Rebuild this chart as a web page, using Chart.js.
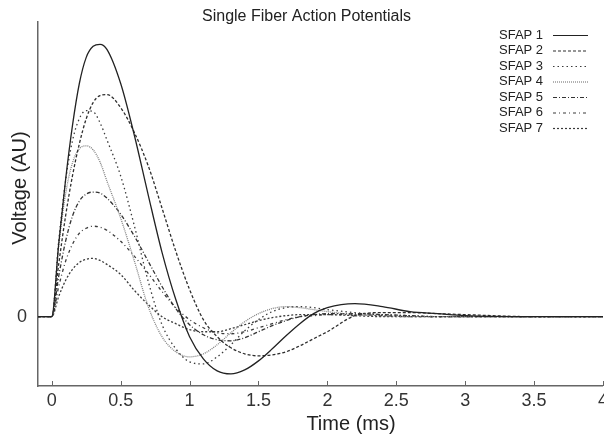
<!DOCTYPE html>
<html>
<head>
<meta charset="utf-8">
<script src="https://cdn.jsdelivr.net/npm/chart.js@4.4.0/dist/chart.umd.min.js"></script>
<style>
  html, body { margin: 0; padding: 0; background: #fff; }
</style>
</head>
<body>
<canvas id="sfap" width="604" height="437"></canvas>
<script>
// Time axis (ms), shared by all traces
var timeMs = [-0.1, 0, 0.05, 0.1, 0.15, 0.2, 0.25, 0.3, 0.35, 0.4, 0.5, 0.6, 0.7, 0.8, 0.9,
  1.0, 1.1, 1.2, 1.3, 1.4, 1.5, 1.6, 1.7, 1.8, 1.9, 2.0, 2.2, 2.4, 2.6, 2.8, 3.0, 3.5, 4.0];

// Voltage readings (AU) for each single fiber action potential
var sfap1 = [0, 0, 72, 136, 190, 232, 258, 269, 271, 266, 232, 180, 121, 64, 17,
  -20, -42, -54, -57, -53, -44, -32, -19, -7, 3, 9, 13, 10, 5, 3, 1, 0, 0];
var sfap2 = [0, 0, 52, 100, 140, 172, 197, 213, 220, 221, 208, 183, 150, 108, 65,
  27, -3, -20, -31, -37, -39, -38, -35, -29, -22, -15, 1, 4, 4, 3, 2, 0, 0];
var sfap3 = [0, 0, 75, 135, 175, 197, 205, 204, 193, 176, 140, 90, 35, -8, -32,
  -45, -47, -40, -28, -14, -3, 5, 9, 10, 9, 7, 4, 2, 1, 0, 0, 0, 0];
var sfap4 = [0, 0, 70, 122, 153, 167, 170, 166, 154, 135, 98, 55, 10, -20, -35,
  -40, -37, -28, -16, -5, 3, 8, 10, 9, 7, 5, 2, 1, 0, 0, 0, 0, 0];
var sfap5 = [0, 0, 40, 75, 100, 115, 122, 124, 123, 118, 102, 80, 55, 30, 8,
  -8, -18, -23, -24, -21, -15, -9, -4, 0, 2, 3, 3, 2, 1, 0, 0, 0, 0];
var sfap6 = [0, 0, 30, 55, 72, 83, 88, 90, 89, 86, 75, 60, 43, 25, 9,
  -3, -11, -16, -17, -15, -11, -7, -3, 0, 1, 2, 2, 1, 0, 0, 0, 0, 0];
var sfap7 = [0, 0, 20, 36, 47, 54, 57, 58, 56, 52, 42, 26, 12, 0, -7,
  -13, -15, -15, -12, -8, -4, -1, 1, 2, 2, 2, 1, 0, 0, 0, 0, 0, 0];

var seriesNames = ["SFAP 1", "SFAP 2", "SFAP 3", "SFAP 4", "SFAP 5", "SFAP 6", "SFAP 7"];
var xTicks = [0, 0.5, 1, 1.5, 2, 2.5, 3, 3.5, 4];
var yTicks = [0];

var FONT = "'Liberation Sans', Arial, Helvetica, sans-serif";

// Line styles: solid, dashed, dotted, fine dotted, dash-dot, sparse dash-dot, short dash
var styles = [
  { color: "#222222", dash: [] },
  { color: "#2e2e2e", dash: [3, 2] },
  { color: "#3a3a3a", dash: [1.5, 3] },
  { color: "#808080", dash: [1, 1] },
  { color: "#333333", dash: [4, 2, 1, 2] },
  { color: "#3a3a3a", dash: [3, 3, 1, 3] },
  { color: "#3a3a3a", dash: [2, 2] }
];

function toPoints(values) {
  return values.map(function (v, i) { return { x: timeMs[i], y: v }; });
}

var allSeries = [sfap1, sfap2, sfap3, sfap4, sfap5, sfap6, sfap7];
var datasets = allSeries.map(function (vals, i) {
  return {
    label: seriesNames[i],
    data: toPoints(vals),
    borderColor: styles[i].color,
    borderDash: styles[i].dash,
    borderWidth: 1.3,
    pointRadius: 0,
    fill: false,
    cubicInterpolationMode: "monotone"
  };
});

// Axis titles, inward x tick marks and the right-side legend
var decor = {
  id: "decor",
  afterDraw: function (chart) {
    var ctx = chart.ctx;
    var area = chart.chartArea;
    var xs = chart.scales.x;

    ctx.save();
    ctx.strokeStyle = "#666";
    ctx.lineWidth = 1;
    xTicks.forEach(function (v) {
      var px = Math.round(xs.getPixelForValue(v)) + 0.5;
      ctx.beginPath();
      ctx.moveTo(px, area.bottom);
      ctx.lineTo(px, area.bottom - 5);
      ctx.stroke();
    });

    ctx.fillStyle = "#222";
    ctx.font = "20px " + FONT;
    ctx.textAlign = "center";
    ctx.textBaseline = "middle";
    ctx.fillText("Time (ms)", 351, 424);

    ctx.save();
    ctx.translate(20, 188);
    ctx.rotate(-Math.PI / 2);
    ctx.fillText("Voltage (AU)", 0, 0);
    ctx.restore();

    // legend
    ctx.font = "13px " + FONT;
    ctx.textAlign = "left";
    chart.data.datasets.forEach(function (ds, i) {
      var y = 35 + i * 15.5;
      ctx.fillStyle = "#222";
      ctx.fillText(ds.label, 499, y);
      ctx.strokeStyle = ds.borderColor;
      ctx.lineWidth = 1.2;
      ctx.setLineDash(ds.borderDash);
      ctx.beginPath();
      ctx.moveTo(553, y + 0.5);
      ctx.lineTo(588, y + 0.5);
      ctx.stroke();
      ctx.setLineDash([]);
    });
    ctx.restore();
  }
};

var ctx = document.getElementById("sfap").getContext("2d");
var chart = new Chart(ctx, {
  type: "line",
  data: { datasets: datasets },
  options: {
    responsive: false,
    animation: false,
    devicePixelRatio: 1,
    layout: { autoPadding: false, padding: { left: 0, right: -9, top: 0, bottom: 0 } },
    plugins: {
      legend: { display: false },
      tooltip: { enabled: false },
      title: {
        display: true,
        text: "Single Fiber Action Potentials",
        color: "#222",
        font: { family: FONT, size: 16, weight: "normal" },
        padding: { top: 7, bottom: -4 }
      }
    },
    scales: {
      x: {
        type: "linear",
        min: -0.1,
        max: 4,
        afterBuildTicks: function (s) { s.ticks = xTicks.map(function (v) { return { value: v }; }); },
        afterFit: function (s) { s.height = 51; },
        grid: { display: false },
        border: { display: true, color: "#666", width: 1.5 },
        ticks: {
          autoSkip: false,
          maxRotation: 0,
          padding: -4,
          color: "#333",
          font: { family: FONT, size: 18 },
          callback: function (v) { return String(v); }
        }
      },
      y: {
        type: "linear",
        min: -69,
        max: 293,
        afterBuildTicks: function (s) { s.ticks = yTicks.map(function (v) { return { value: v }; }); },
        afterFit: function (s) { s.width = 38; },
        grid: { display: false },
        border: { display: true, color: "#666", width: 1.5 },
        ticks: {
          padding: 3,
          color: "#333",
          font: { family: FONT, size: 18 },
          callback: function (v) { return String(v); }
        }
      }
    }
  },
  plugins: [decor]
});
</script>
</body>
</html>
